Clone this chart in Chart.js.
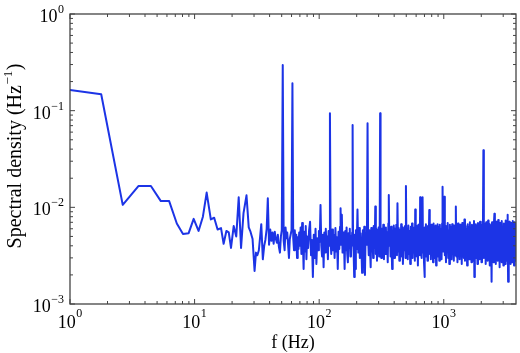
<!DOCTYPE html>
<html>
<head>
<meta charset="utf-8">
<script src="https://cdn.jsdelivr.net/npm/chart.js@4.4.0/dist/chart.umd.min.js"></script>
<style>
html,body{margin:0;padding:0;background:#fff;}
canvas{display:block;}
</style>
</head>
<body>
<canvas id="c" width="520" height="353"></canvas>
<script>
// ---- data (frequency in Hz, spectral density in Hz^-1) ----
const freqLow = [1, 1.78, 2.65, 3.54, 4.46, 5.36, 6.25, 7.2, 8.07, 8.96,
 9.83, 10.76, 11.66, 12.5, 13.5, 14.36, 15.3, 16.3, 17.1, 18,
 18.8, 19.6, 20.6, 21.6, 22.6, 23.6, 24.7, 26.1, 27.2, 28.1,
 29.2, 30.3, 31.1, 31.9, 32.8, 33.6, 34.3, 35.3, 36.2, 37.0,
 37.9, 38.7, 39.6, 40.5, 41.4, 42.2, 43.1, 44.0, 44.9, 45.8,
 46.6, 47.5, 48.4, 49.3, 50.1, 51.0, 51.9, 52.8, 53.7, 54.6,
 55.4, 56.3, 57.2, 58.1, 59.0, 60.0, 61.0, 61.9, 62.8, 63.7];
const psdLow = [.164, .148, .0106, .0166, .0166, .0116, .0116, .0068, .0053, .0054,
 .0076, .0057, .0080, .0142, .0075, .0078, .0059, .0061, .0042, .0057,
 .0055, .0038, .0064, .0050, .0127, .0038, .0087, .0133, .0062, .0056,
 .0047, .0022, .0034, .0032, .0036, .0050, .0067, .0029, .0040, .0046,
 .0060, .0124, .0041, .0059, .0045, .0055, .0042, .0056, .0047, .0043,
 .0052, .0039, .0034, .0050, .0058, .297, .0045, .0036, .0062, .0048,
 .0055, .0041, .0030, .0047, .0052, .0058, .192, .0048, .0036, .0058];

const freqA = [64.6, 65.5, 66.4, 67.3, 68.2, 69.1, 70, 71, 72, 73,
 74, 75, 76, 77, 78, 79, 80, 81.5, 83, 84.5,
 86, 87.5, 89, 90.5, 92, 93.5, 95, 96.5, 98, 99.5,
 101, 102.5, 104, 105.5, 107, 108.5, 110, 111.5, 113, 114.5];
const psdA = [.0041, .0052, .0030, .0049, .0037, .0055, .0040, .0062, .0033, .0069,
 .0045, .0023, .0056, .0035, .0064, .0029, .0050, .0038, .0058, .0071,
 .0032, .0046, .0019, .0052, .0030, .0060, .0026, .0048, .0036, .0057,
 .0044, .0106, .0040, .0031, .0052, .0024, .0055, .0034, .0060, .0038];

const freqB = [116, 117.5, 119, 120.5, 122, 123.5, 125, 127, 129, 131,
 133, 135, 137, 139, 141, 143, 145, 147, 148.5, 150,
 152, 154, 156, 158, 160, 162, 164, 166, 168, 170,
 172, 174, 176, 178, 180, 182, 184, 185.5, 187, 189,
 191, 193, 195, 197, 200, 203, 206, 209, 212, 215,
 218, 221, 224, 227, 230, 233, 236, 239, 242, 244.5,
 247, 250, 253, 256, 259, 262, 265, 268, 271, 274,
 277, 280, 282, 285, 288, 291, 294, 297, 300, 303,
 306, 308.5, 311, 315, 319, 323, 327, 331, 335, 339];
const psdB = [.0050, .0029, .0057, .0040, .094, .0046, .0033, .0059, .0036, .0052,
 .0030, .0061, .0035, .0049, .0023, .0056, .0037, .0063, .0098, .0041,
 .0084, .0034, .0055, .0050, .0023, .0057, .0036, .0062, .0033, .0027,
 .0054, .0038, .0060, .0031, .0050, .0040, .0055, .071, .0045, .0035,
 .0019, .0052, .0023, .0058, .0037, .0095, .0034, .0061, .0030, .0054,
 .0039, .0021, .0058, .0036, .0063, .0020, .0055, .0041, .0060, .074,
 .0049, .0032, .0058, .0037, .0024, .0061, .0035, .0056, .0030, .0064,
 .0038, .0052, .0102, .0033, .0059, .0028, .0055, .0036, .0062, .0031,
 .0054, .094, .0047, .0030, .0060, .0035, .0066, .0029, .0057, .0033];

const freqC = [343, 347, 351, 355, 359, 362, 366, 370, 374, 378,
 382, 385, 389, 393, 397, 401, 406, 411, 416, 421,
 425, 430, 435, 440, 445, 450, 455, 460, 465, 470,
 476, 482, 488, 493, 497, 502, 508, 514, 520, 526,
 532, 538, 544, 550, 556, 562, 568, 574, 580, 586,
 590, 596, 602, 608, 614, 620, 626, 632, 638, 643,
 646, 652, 658, 664, 670, 676, 682, 688, 694, 700,
 706, 712, 719, 726, 733, 740, 747, 754, 760, 765,
 772, 780, 788, 796, 804, 812, 820, 828, 836, 844,
 852, 860, 868, 876, 884, 892, 900, 910, 920, 930,
 940, 950, 960, 970, 978, 988, 998, 1009, 1020, 1031];
const psdC = [.0062, .0038, .0055, .0027, .0068, .0134, .0040, .0059, .0031, .0063,
 .0036, .0023, .0058, .0034, .0065, .0030, .0060, .0037, .0066, .0032,
 .0110, .0035, .0061, .0028, .0058, .0034, .0067, .0031, .0062, .0026,
 .0059, .0036, .0064, .0030, .0166, .0038, .0060, .0029, .0065, .0033,
 .0057, .0026, .0063, .0035, .0068, .0030, .0060, .0034, .0062, .0028,
 .0095, .0036, .0064, .0031, .0058, .0025, .0066, .0035, .0061, .0032,
 .0127, .0037, .0060, .0030, .0065, .0127, .0034, .0058, .0027, .0019,
 .0062, .0036, .0067, .0031, .0059, .0028, .0064, .0035, .0058, .0094,
 .0033, .0062, .0029, .0066, .0036, .0060, .0027, .0068, .0034, .0061,
 .0030, .0065, .0025, .0059, .0037, .0067, .0031, .0062, .0028, .0066,
 .0034, .0059, .0029, .0068, .0163, .0035, .0060, .0129, .0032, .0064];

const freqD = [1042, 1053, 1064, 1075, 1086, 1097, 1108, 1120, 1132, 1144,
 1156, 1168, 1180, 1192, 1204, 1216, 1228, 1240, 1250, 1262,
 1275, 1288, 1301, 1314, 1327, 1340, 1353, 1366, 1380, 1394,
 1408, 1422, 1436, 1450, 1465, 1480, 1495, 1510, 1525, 1540,
 1556, 1572, 1588, 1604, 1620, 1636, 1652, 1668, 1684, 1700,
 1716, 1732, 1748, 1760, 1776, 1792, 1810, 1828, 1846, 1864,
 1882, 1900, 1918, 1936, 1954, 1972, 1990, 2008, 2026, 2044,
 2062, 2080, 2098, 2116, 2134, 2152, 2170, 2190, 2210, 2230,
 2250, 2270, 2290, 2310, 2330, 2350, 2372, 2394, 2420, 2440,
 2462, 2484, 2506, 2528, 2550, 2572, 2594, 2616, 2640, 2664,
 2688, 2712, 2736, 2760, 2784, 2808, 2832, 2856, 2880, 2906,
 2932, 2958, 2984, 3010, 3036, 3062, 3088, 3114, 3140, 3166,
 3192, 3218, 3244, 3270, 3284, 3310, 3336, 3362, 3388, 3414,
 3440, 3468, 3496, 3524, 3552, 3580, 3608, 3636, 3664, 3692,
 3720, 3748, 3776, 3800];
const psdD = [.0027, .0061, .0035, .0069, .0030, .0058, .0026, .0066, .0033, .0062,
 .0029, .0067, .0036, .0060, .0028, .0065, .0032, .0059, .0102, .0031,
 .0064, .0027, .0068, .0034, .0060, .0029, .0066, .0035, .0062, .0026,
 .0069, .0033, .0061, .0030, .0075, .0028, .0064, .0036, .0059, .0025,
 .0067, .0034, .0062, .0029, .0070, .0032, .0060, .0027, .0066, .0035,
 .0063, .0028, .0072, .0019, .0061, .0033, .0067, .0030, .0064, .0026,
 .0069, .0034, .0062, .0029, .0071, .0032, .0060, .0027, .0066, .0035,
 .0063, .0390, .0030, .0068, .0033, .0061, .0026, .0070, .0031, .0064,
 .0028, .0073, .0035, .0062, .0025, .0067, .0032, .0065, .0017, .0070,
 .0031, .0063, .0027, .0069, .0086, .0030, .0066, .0026, .0071, .0033,
 .0062, .0028, .0074, .0034, .0064, .0024, .0069, .0031, .0065, .0027,
 .0072, .0035, .0061, .0025, .0068, .0030, .0066, .0026, .0073, .0032,
 .0063, .0028, .0070, .0084, .0017, .0065, .0029, .0071, .0033, .0062,
 .0026, .0069, .0031, .0066, .0027, .0072, .0034, .0063, .0025, .0070,
 .0030, .0067, .0028, .0064];

const xRange = [1, 3800];
const yRange = [0.001, 1];
const xMajorExps = [0, 1, 2, 3];
const yMajorExps = [-3, -2, -1, 0];
const xTitle = 'f (Hz)';
const yTitleMain = 'Spectral density (Hz';
const yTitleSup = '\u22121';
const yTitleEnd = ')';

// ---- build ----
const freqs = [].concat(freqLow, freqA, freqB, freqC, freqD);
const psd = [].concat(psdLow, psdA, psdB, psdC, psdD);
const points = freqs.map((f, i) => ({x: f, y: psd[i]}));

const SERIF = '"Liberation Serif", "Times New Roman", serif';
const AX = '#444';

function supText(e){ return (e < 0 ? '\u2212' : '') + Math.abs(e); }

const framePlugin = {
  id: 'frame',
  afterDraw(chart){
    const {ctx, chartArea: a, scales: {x, y}} = chart;
    ctx.save();
    ctx.strokeStyle = AX;
    ctx.lineWidth = 1.3;
    ctx.strokeRect(a.left, a.top, a.right - a.left, a.bottom - a.top);
    ctx.lineWidth = 1;
    ctx.beginPath();
    xMajorExps.forEach(e => {
      const d = Math.pow(10, e);
      for (let m = 1; m <= 9; m++) {
        const v = m * d;
        if (v > x.max) break;
        const px = x.getPixelForValue(v);
        const len = m === 1 ? 5 : 3;
        ctx.moveTo(px, a.bottom); ctx.lineTo(px, a.bottom - len);
        ctx.moveTo(px, a.top); ctx.lineTo(px, a.top + len);
      }
    });
    yMajorExps.forEach(e => {
      const d = Math.pow(10, e);
      for (let m = 1; m <= 9; m++) {
        const v = m * d;
        if (v > y.max * 1.0001) break;
        const py = y.getPixelForValue(v);
        const len = m === 1 ? 5 : 3;
        ctx.moveTo(a.left, py); ctx.lineTo(a.left + len, py);
        ctx.moveTo(a.right, py); ctx.lineTo(a.right - len, py);
        if (e === 0) break;
      }
    });
    ctx.stroke();

    ctx.fillStyle = '#000';
    ctx.textBaseline = 'alphabetic';
    ctx.textAlign = 'left';
    const big = '18px ' + SERIF, small = '12px ' + SERIF;
    function measure(e){
      ctx.font = big; const w1 = ctx.measureText('10').width;
      ctx.font = small; const w2 = ctx.measureText(supText(e)).width;
      return [w1, w2];
    }
    function drawPow(e, left, base, raise){
      const [w1] = measure(e);
      ctx.font = big; ctx.fillText('10', left, base);
      ctx.font = small; ctx.fillText(supText(e), left + w1 + 0.5, base - raise);
    }
    xMajorExps.forEach(e => {
      const px = x.getPixelForValue(Math.pow(10, e));
      const [w1, w2] = measure(e);
      drawPow(e, px - (w1 + w2 + 0.5) / 2, a.bottom + 24, 11);
    });
    yMajorExps.forEach(e => {
      const py = y.getPixelForValue(Math.pow(10, e));
      const [w1, w2] = measure(e);
      drawPow(e, a.left - 6 - (w1 + w2 + 0.5), py + 8, 9);
    });

    ctx.font = big;
    ctx.textAlign = 'center';
    ctx.fillText(xTitle, (a.left + a.right) / 2, 348);

    const tBig = '20px ' + SERIF, tSmall = '13px ' + SERIF;
    ctx.translate(21, (a.top + a.bottom) / 2 - 3);
    ctx.rotate(-Math.PI / 2);
    ctx.textAlign = 'left';
    ctx.font = tBig; const t1 = ctx.measureText(yTitleMain).width;
    const t3 = ctx.measureText(yTitleEnd).width;
    ctx.font = tSmall; const t2 = ctx.measureText(yTitleSup).width;
    let sx = -(t1 + t2 + t3 + 1) / 2;
    ctx.font = tBig; ctx.fillText(yTitleMain, sx, 0);
    ctx.font = tSmall; ctx.fillText(yTitleSup, sx + t1 + 0.5, -9);
    ctx.font = tBig; ctx.fillText(yTitleEnd, sx + t1 + t2 + 1, 0);
    ctx.restore();
  }
};

new Chart(document.getElementById('c'), {
  type: 'line',
  data: {
    datasets: [{
      data: points,
      borderColor: 'rgb(28,52,230)',
      borderWidth: 2,
      pointRadius: 0,
      tension: 0,
      fill: false,
      borderJoinStyle: 'round',
      borderCapStyle: 'round'
    }]
  },
  options: {
    responsive: false,
    animation: false,
    devicePixelRatio: 1,
    layout: {padding: {left: 0, top: 14, right: 4, bottom: 0}},
    plugins: {legend: {display: false}, tooltip: {enabled: false}},
    scales: {
      x: {
        type: 'logarithmic', min: xRange[0], max: xRange[1],
        ticks: {display: false}, grid: {display: false}, border: {display: false},
        afterFit(s){ s.height = 49; }
      },
      y: {
        type: 'logarithmic', min: yRange[0], max: yRange[1],
        ticks: {display: false}, grid: {display: false}, border: {display: false},
        afterFit(s){ s.width = 70; }
      }
    }
  },
  plugins: [framePlugin]
});
</script>
</body>
</html>
